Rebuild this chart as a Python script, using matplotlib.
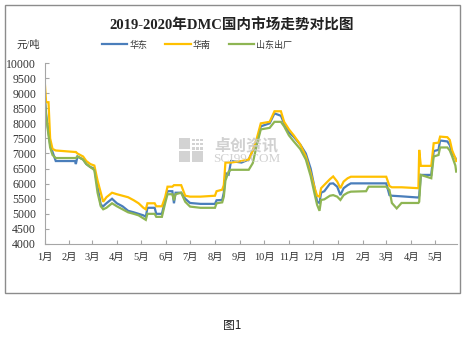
import matplotlib
matplotlib.use("Agg")
import matplotlib.pyplot as plt
import matplotlib.dates as mdates
from matplotlib.patches import Rectangle
import pandas as pd

plt.rcParams['font.family'] = ['Liberation Serif', 'Noto Sans CJK SC', 'DejaVu Sans']

title = "2019-2020年DMC国内市场走势对比图"
series_names = ["华东", "华南", "山东出厂"]
unit_label = "元/吨"
caption = "图1"

dates = [
    "2019-01-01", "2019-01-03", "2019-01-06", "2019-01-08", "2019-01-11", "2019-01-15",
    "2019-02-08", "2019-02-09", "2019-02-11", "2019-02-18", "2019-02-22", "2019-02-27",
    "2019-03-04", "2019-03-08", "2019-03-12", "2019-03-15", "2019-03-19", "2019-03-26",
    "2019-04-01", "2019-04-08", "2019-04-15", "2019-04-22", "2019-04-28", "2019-05-04",
    "2019-05-07", "2019-05-09", "2019-05-18", "2019-05-20", "2019-05-27", "2019-05-31",
    "2019-06-03", "2019-06-09", "2019-06-11", "2019-06-13", "2019-06-20", "2019-06-25",
    "2019-07-01", "2019-07-14", "2019-08-01", "2019-08-03", "2019-08-10", "2019-08-12",
    "2019-08-14", "2019-08-18", "2019-08-21", "2019-09-03", "2019-09-12", "2019-09-17",
    "2019-09-22", "2019-09-27", "2019-10-08", "2019-10-14", "2019-10-22", "2019-10-26",
    "2019-11-01", "2019-11-07", "2019-11-15", "2019-11-22", "2019-11-28", "2019-12-03",
    "2019-12-06", "2019-12-09", "2019-12-11", "2019-12-15", "2019-12-22", "2019-12-26",
    "2019-12-31", "2020-01-04", "2020-01-08", "2020-01-13", "2020-01-17", "2020-02-05",
    "2020-02-08", "2020-03-01", "2020-03-05", "2020-03-08", "2020-03-14", "2020-03-20",
    "2020-04-10", "2020-04-11", "2020-04-13", "2020-04-26", "2020-04-29", "2020-05-05",
    "2020-05-07", "2020-05-16", "2020-05-19", "2020-05-22", "2020-05-26", "2020-05-27",
]

east = [
    9000, 8300, 7700, 7300, 7050, 6750,
    6750, 6650, 6900, 6800, 6650, 6550,
    6500, 5900, 5300, 5250, 5350, 5500,
    5350, 5250, 5100, 5050, 5000, 4950,
    4900, 5200, 5200, 5000, 5000, 5450,
    5750, 5750, 5350, 5700, 5700, 5500,
    5360, 5330, 5330, 5450, 5460, 5700,
    6350, 6300, 6750, 6700, 6800, 7100,
    7350, 7900, 8000, 8330, 8250, 8000,
    7700, 7550, 7300, 7000, 6500, 5850,
    5400, 5360, 5700, 5750, 6000, 6010,
    5900, 5620, 5850, 5950, 6010, 6010,
    6010, 6010, 5620, 5600, 5590, 5580,
    5540, 5600, 6290, 6290, 7080, 7120,
    7430, 7400, 7280, 7000, 6850, 6780,
]

south = [
    9500, 8700, 8700, 7500, 7150, 7100,
    7050, 7050, 7000, 6900, 6750, 6650,
    6600, 6100, 5700, 5400, 5550, 5700,
    5650, 5600, 5550, 5450, 5350, 5200,
    5150, 5350, 5350, 5250, 5250, 5550,
    5900, 5900, 5950, 5950, 5950, 5600,
    5570, 5570, 5600, 5750, 5800, 5950,
    6700, 6700, 6700, 6750, 6800, 7100,
    7500, 8000, 8050, 8400, 8400, 8050,
    7800, 7600, 7300, 6900, 6350, 5850,
    5600, 5570, 5850, 5960, 6150, 6240,
    6070, 5850, 6070, 6180, 6230, 6230,
    6230, 6230, 5920, 5880, 5880, 5880,
    5850, 7120, 6590, 6590, 7340, 7360,
    7560, 7540, 7450, 7100, 6840, 6750,
]

shandong = [
    8900, 8250, 7600, 7200, 6950, 6850,
    6850, 6850, 6900, 6800, 6650, 6550,
    6450, 5700, 5250, 5150, 5200, 5350,
    5250, 5150, 5050, 5000, 4950, 4850,
    4800, 5000, 5000, 4900, 4900, 5350,
    5650, 5650, 5450, 5650, 5700, 5400,
    5240, 5200, 5200, 5350, 5380, 5570,
    6100, 6400, 6460, 6460, 6460, 6680,
    7280, 7800, 7850, 8050, 8050, 7900,
    7600, 7400, 7150, 6800, 6250, 5650,
    5300, 5100, 5460, 5480, 5600, 5620,
    5570, 5460, 5620, 5700, 5735, 5750,
    5900, 5900, 5790, 5360, 5180, 5360,
    5360, 5400, 6290, 6180, 6900, 6950,
    7200, 7200, 7100, 6900, 6600, 6400,
]

colors = ["#4A7EBB", "#FFC000", "#8EB553"]
month_ticks = pd.date_range("2019-01-01", "2020-05-01", freq="MS")
month_labels = [f"{d.month}月" for d in month_ticks]
y_ticks = list(range(4000, 10001, 500))

W, H = 465, 347
fig = plt.figure(figsize=(W / 100, H / 100), dpi=100)
ax = fig.add_axes([44.5 / W, 1 - 244 / H, (457 - 44.5) / W, (244 - 63) / H])

x = pd.to_datetime(dates)
for vals, name, c in zip([east, south, shandong], series_names, colors):
    ax.plot(x, vals, color=c, lw=1.6, label=name, solid_joinstyle="miter")

ax.set_xlim(pd.Timestamp("2019-01-01"), pd.Timestamp("2020-05-28"))
ax.set_ylim(4000, 10000)
ax.set_yticks(y_ticks)
ax.set_yticklabels([str(v) for v in y_ticks])
ax.set_xticks(month_ticks)
ax.set_xticklabels(month_labels)

for s in ["top", "right"]:
    ax.spines[s].set_visible(False)
for s in ["left", "bottom"]:
    ax.spines[s].set_color("#A6A6A6")
    ax.spines[s].set_linewidth(0.8)
ax.tick_params(axis="both", direction="in", length=3, width=0.8, color="#A6A6A6",
               labelcolor="#333333")
ax.tick_params(axis="y", labelsize=8.5, pad=6)
ax.tick_params(axis="x", labelsize=7.5, pad=6.5)

# title and unit
fig.text(232 / W, 1 - 26 / H, title, ha="center", va="center", fontsize=10.5,
         fontweight="bold", color="#222222")
fig.text(28 / W, 1 - 45 / H, unit_label, ha="center", va="center", fontsize=7.5,
         color="#333333")

# legend
leg = fig.legend(loc="center", bbox_to_anchor=(197 / W, 1 - 45 / H), ncol=3,
                 frameon=False, handlelength=2.8, handletextpad=0.25,
                 columnspacing=2.0, borderpad=0,
                 prop={"family": ["Noto Sans CJK SC"], "size": 6.5})
for t in leg.get_texts():
    t.set_color("#333333")

# watermark
wm = "#C9C9C9"
for (x0, y0) in [(179, 138), (191.5, 150.5), (179, 150.5)]:
    fig.patches.append(Rectangle((x0 / W, 1 - (y0 + 11) / H), 11 / W, 11 / H,
                                 transform=fig.transFigure, color=wm, alpha=0.8, lw=0))
for i in range(3):
    for j in range(3):
        fig.patches.append(Rectangle(((192 + i * 4) / W, 1 - (139 + j * 4 + 2.5) / H), 2.5 / W, 2.5 / H,
                                     transform=fig.transFigure, color=wm, alpha=0.8, lw=0))
fig.text(246 / W, 1 - 145.5 / H, "卓创资讯", ha="center", va="center", fontsize=11.5,
         fontweight="bold", color=wm, alpha=0.85, family=["Noto Sans CJK SC"])
fig.text(247 / W, 1 - 158.5 / H, "SCI99.COM", ha="center", va="center", fontsize=9.5,
         color=wm, alpha=0.85, family=["Liberation Serif"])

# outer border
fig.patches.append(Rectangle((5 / W, 1 - 292.5 / H), 454.5 / W, 287.5 / H,
                             transform=fig.transFigure, fill=False,
                             edgecolor="#8C8C8C", lw=1.0))

fig.text(232 / W, 1 - 326 / H, caption, ha="center", va="center", fontsize=8.5,
         color="#222222", family=["Noto Sans CJK SC"])

fig.savefig("out.png", dpi=100)
